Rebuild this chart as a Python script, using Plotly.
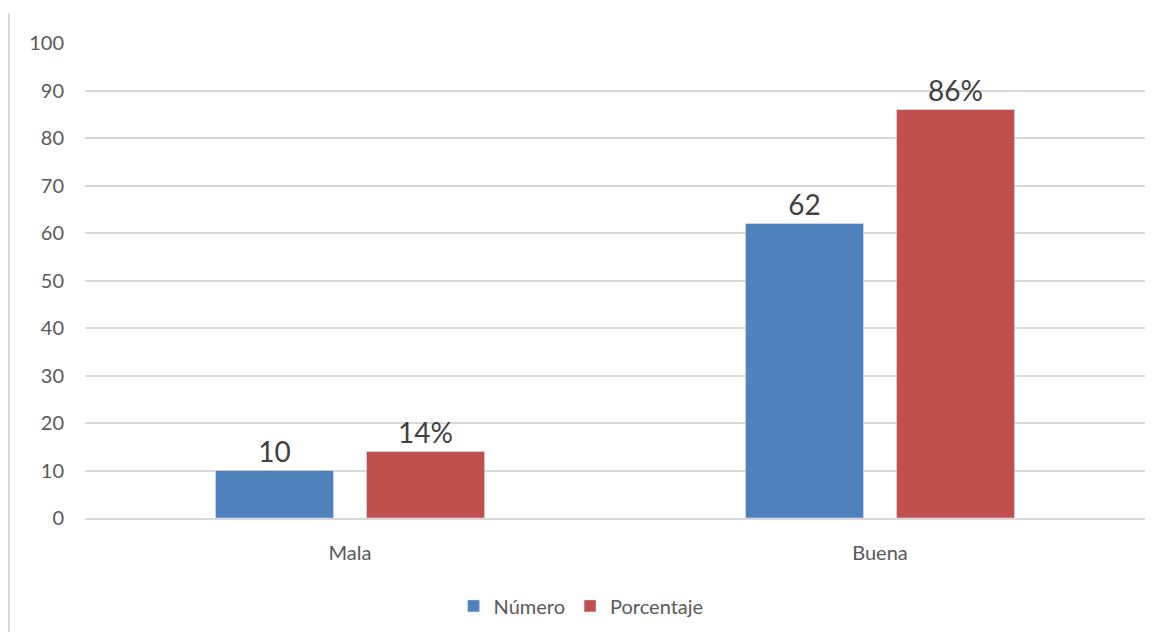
import plotly.graph_objects as go

categories = ["Mala", "Buena"]
numero = [10, 62]
porcentaje = [14, 86]
numero_labels = ["10", "62"]
porcentaje_labels = ["14%", "86%"]
y_ticks = [0, 10, 20, 30, 40, 50, 60, 70, 80, 90, 100]

FONT = "Lato, Calibri, Carlito, sans-serif"

fig = go.Figure()
fig.add_trace(go.Bar(
    name="Número", x=categories, y=numero, text=numero_labels,
    textposition="outside", marker_color="#4F81BD",
    textfont=dict(size=28, color="#404040", family=FONT), cliponaxis=False,
))
fig.add_trace(go.Bar(
    name="Porcentaje", x=categories, y=porcentaje, text=porcentaje_labels,
    textposition="outside", marker_color="#C0504D",
    textfont=dict(size=28, color="#404040", family=FONT), cliponaxis=False,
))

fig.update_layout(
    width=1162, height=632,
    margin=dict(l=85, r=17, t=43, b=114, autoexpand=False),
    paper_bgcolor="white", plot_bgcolor="white",
    barmode="group", bargap=0.43, bargroupgap=0.2185,
    font=dict(family=FONT, color="#595959", size=20),
    legend=dict(orientation="h", x=0.468, xanchor="center", y=-0.185, yanchor="middle",
                font=dict(size=20, color="#595959"), itemwidth=30, traceorder="normal"),
    showlegend=True,
    shapes=[dict(type="line", xref="paper", yref="paper", x0=-0.0717, x1=-0.0717,
                 y0=-0.25, y1=1.063, line=dict(color="#d9d9d9", width=2))],
)
fig.update_yaxes(range=[0, 100], tickvals=y_ticks, showgrid=True, gridcolor="#d9d9d9",
                 gridwidth=1.5, zeroline=False, showline=False, ticks="",
                 ticklabelstandoff=20, tickfont=dict(size=20, color="#595959"))
fig.update_xaxes(showline=True, linecolor="#d9d9d9", linewidth=1.5, ticks="",
                 ticklabelstandoff=16, tickfont=dict(size=20, color="#595959"))

fig.write_html("out.html")
